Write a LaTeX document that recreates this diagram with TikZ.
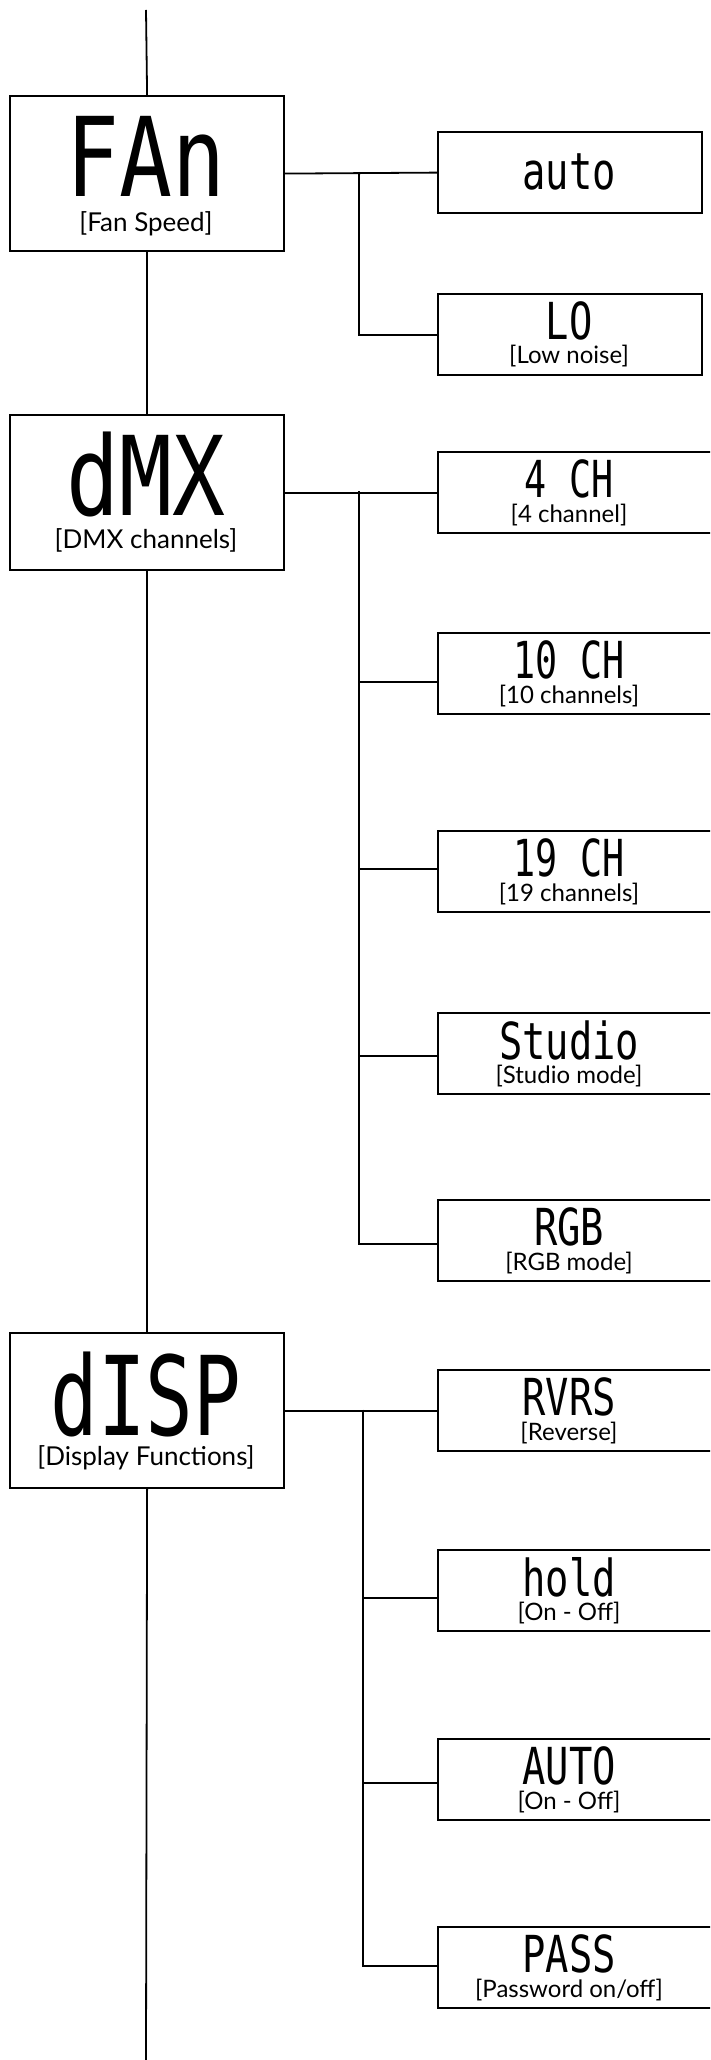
\documentclass[tikz,border=0pt]{standalone}
\usepackage{fontspec}
\usepackage{graphicx}
\setmainfont{Lato}
\newfontfamily\lcdfont{DejaVu Sans Mono}
\usetikzlibrary{calc}
\newcommand\lcdscale[2]{\scalebox{#1}[1]{#2}}
\begin{document}
\begin{tikzpicture}[x=1pt,y=-1pt,
  mainbox/.style={draw, line width=2.2pt, minimum width=274pt, minimum height=155pt, inner sep=0pt, anchor=north west},
  subbox/.style={draw, line width=2.2pt, minimum width=#1, minimum height=81pt, inner sep=0pt, anchor=north west},
  subbox/.default=300pt,
  link/.style={line width=1.8pt},
  biglcd/.style={font=\lcdfont\fontsize{110}{110}\selectfont, inner sep=0pt},
  maintxt/.style={font=\fontsize{26}{26}\selectfont, inner sep=0pt},
  sublcd/.style={font=\lcdfont\fontsize{51}{51}\selectfont, inner sep=0pt},
  subtxt/.style={font=\fontsize{24}{24}\selectfont, inner sep=0pt}]
\useasboundingbox (0,0) rectangle (710,2060);
\clip (0,0) rectangle (710,2060);
% main boxes
\node[mainbox] (fan) at (9,95) {};
\node[biglcd] (fanlcd) at (146,156) {\lcdscale{0.8}{FAn}};
\node[maintxt] (fansub) at (146,224) {[Fan Speed]};
\node[mainbox] (dmx) at (9,414) {};
\node[biglcd] (dmxlcd) at (146,474) {\lcdscale{0.8}{dMX}};
\node[maintxt] (dmxsub) at (146,540) {[DMX channels]};
\node[mainbox] (disp) at (9,1332) {};
\node[biglcd] (displcd) at (146,1394) {\lcdscale{0.72}{dISP}};
\node[maintxt] (dispsub) at (146,1458) {[Display Functions]};
% fan children
\node[subbox=264pt] (auto) at (437,131) {};
\node[sublcd] (autolcd) at (569,172) {\lcdscale{0.76}{auto}};
\node[subbox=264pt] (lo) at (437,293) {};
\node[sublcd] (lolcd) at (569,321) {\lcdscale{0.76}{LO}};
\node[subtxt] (losub) at (569,356) {[Low noise]};
% dmx children
\node[subbox] (c4) at (437,451) {};
\node[sublcd] (c4lcd) at (569,479) {\lcdscale{0.72}{4 CH}};
\node[subtxt] (c4sub) at (569,515) {[4 channel]};
\node[subbox] (c10) at (437,632) {};
\node[sublcd] (c10lcd) at (569,660) {\lcdscale{0.72}{10 CH}};
\node[subtxt] (c10sub) at (569,696) {[10 channels]};
\node[subbox] (c19) at (437,830) {};
\node[sublcd] (c19lcd) at (569,858) {\lcdscale{0.72}{19 CH}};
\node[subtxt] (c19sub) at (569,894) {[19 channels]};
\node[subbox] (stu) at (437,1012) {};
\node[sublcd] (stulcd) at (569,1040) {\lcdscale{0.76}{Studio}};
\node[subtxt] (stusub) at (569,1076) {[Studio mode]};
\node[subbox] (rgb) at (437,1199) {};
\node[sublcd] (rgblcd) at (569,1227) {\lcdscale{0.76}{RGB}};
\node[subtxt] (rgbsub) at (569,1263) {[RGB mode]};
% disp children
\node[subbox] (rvrs) at (437,1369) {};
\node[sublcd] (rvrslcd) at (569,1397) {\lcdscale{0.76}{RVRS}};
\node[subtxt] (rvrssub) at (569,1433) {[Reverse]};
\node[subbox] (hold) at (437,1549) {};
\node[sublcd] (holdlcd) at (569,1577) {\lcdscale{0.76}{hold}};
\node[subtxt] (holdsub) at (569,1613) {[On - Off]};
\node[subbox] (aut) at (437,1738) {};
\node[sublcd] (autlcd) at (569,1766) {\lcdscale{0.76}{AUTO}};
\node[subtxt] (autsub) at (569,1802) {[On - Off]};
\node[subbox] (pass) at (437,1926) {};
\node[sublcd] (passlcd) at (569,1954) {\lcdscale{0.76}{PASS}};
\node[subtxt] (passsub) at (569,1990) {[Password on/off]};
% main spine
\coordinate (top) at (146,10);
\coordinate (bottom) at (146,2060);
\draw[link] (top) -- (fan.north);
\draw[link] (fan.south) -- (dmx.north);
\draw[link] (dmx.south) -- (disp.north);
\draw[link] (disp.south) -- (bottom);
% fan connectors
\coordinate (fj) at (359,172);
\draw[link] (fan.east) -- (auto.west);
\draw[link] (fj) |- (lo.west);
% dmx connectors
\coordinate (dj) at (359,491);
\coordinate (dk10) at (359,682);
\coordinate (dk19) at (359,869);
\coordinate (dkstu) at (359,1056);
\coordinate (dkrgb) at (359,1244);
\draw[link] (dmx.east) -- (c4.west);
\draw[link] (dj) -- (dkrgb) -- (dkrgb -| rgb.west);
\draw[link] (dk10) -- (dk10 -| c10.west);
\draw[link] (dk19) -- (dk19 -| c19.west);
\draw[link] (dkstu) -- (dkstu -| stu.west);
% disp connectors
\coordinate (sj) at (363,1409.5);
\coordinate (skhold) at (363,1598);
\coordinate (skaut) at (363,1783);
\coordinate (skpass) at (363,1966);
\draw[link] (disp.east) -- (rvrs.west);
\draw[link] (sj) -- (skpass) -- (skpass -| pass.west);
\draw[link] (skhold) -- (skhold -| hold.west);
\draw[link] (skaut) -- (skaut -| aut.west);
\end{tikzpicture}
\end{document}
